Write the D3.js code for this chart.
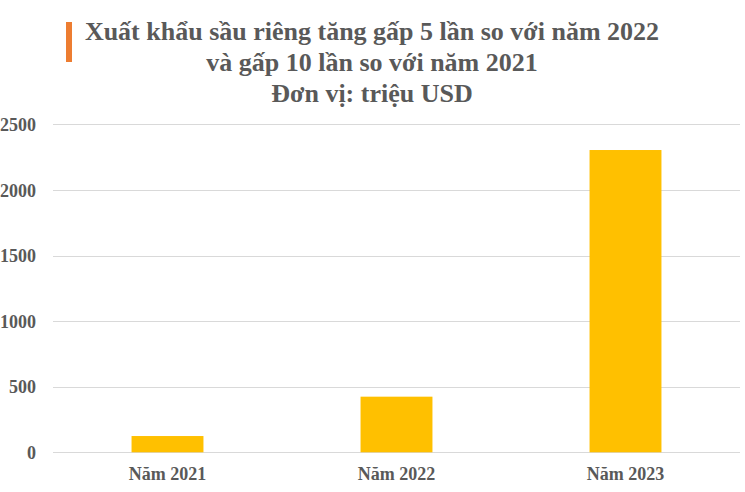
<!DOCTYPE html>
<html>
<head>
<meta charset="utf-8">
<script src="https://cdn.jsdelivr.net/npm/d3@7"></script>
<style>
  html, body { margin: 0; padding: 0; background: #fff; }
  svg { display: block; }
</style>
</head>
<body>
<svg id="chart" width="745" height="492"></svg>
<script>
const categories = ["Năm 2021", "Năm 2022", "Năm 2023"];
const values = [124, 424, 2304];
const yTicks = [0, 500, 1000, 1500, 2000, 2500];
const titleLines = [
  "Xuất khẩu sầu riêng tăng gấp 5 lần so với năm 2022",
  "và gấp 10 lần so với năm 2021",
  "Đơn vị: triệu USD"
];

const svg = d3.select("#chart");
const W = 745, H = 492;
const margin = { left: 53, right: 5, top: 124.3, bottom: 39.7 };
const textColor = "#595959";
const font = "'Liberation Serif', 'Times New Roman', serif";

const x = d3.scaleBand()
  .domain(categories)
  .range([margin.left, W - margin.right])
  .paddingInner(0.686)
  .paddingOuter(0.343);

const y = d3.scaleLinear()
  .domain([0, 2500])
  .range([H - margin.bottom, margin.top]);

// gridlines
svg.append("g")
  .selectAll("line")
  .data(yTicks)
  .join("line")
  .attr("x1", margin.left)
  .attr("x2", W - margin.right)
  .attr("y1", d => Math.round(y(d)) + 0.5)
  .attr("y2", d => Math.round(y(d)) + 0.5)
  .attr("stroke", "#d9d9d9")
  .attr("stroke-width", 1);

// y axis labels
const yAxis = d3.axisLeft(y).tickValues(yTicks).tickSize(0).tickPadding(0).tickFormat(d3.format("d"));
const gy = svg.append("g")
  .attr("transform", `translate(36,0)`)
  .call(yAxis);
gy.select(".domain").remove();
gy.selectAll("text")
  .attr("fill", textColor)
  .style("font-family", font)
  .style("font-weight", "bold")
  .style("font-size", "18px")
  .attr("dy", "0.34em");

// bars
svg.append("g")
  .selectAll("rect")
  .data(values)
  .join("rect")
  .attr("x", (d, i) => x(categories[i]))
  .attr("width", x.bandwidth())
  .attr("y", d => y(d))
  .attr("height", d => y(0) - y(d))
  .attr("fill", "#FFC000");

// x axis labels
const xAxis = d3.axisBottom(x).tickSize(0).tickPadding(0);
const gx = svg.append("g")
  .attr("transform", `translate(0,${y(0)})`)
  .call(xAxis);
gx.select(".domain").remove();
gx.selectAll("text")
  .attr("fill", textColor)
  .style("font-family", font)
  .style("font-weight", "bold")
  .style("font-size", "18px")
  .attr("y", 27.5)
  .attr("dy", null);

// title accent
svg.append("rect")
  .attr("x", 66).attr("y", 22)
  .attr("width", 6).attr("height", 40)
  .attr("fill", "#ED7D31");

// title
svg.append("g")
  .selectAll("text")
  .data(titleLines)
  .join("text")
  .attr("x", 372)
  .attr("y", (d, i) => 40 + i * 31)
  .attr("text-anchor", "middle")
  .attr("fill", textColor)
  .style("font-family", font)
  .style("font-weight", "bold")
  .style("font-size", "26px")
  .text(d => d);
</script>
</body>
</html>
